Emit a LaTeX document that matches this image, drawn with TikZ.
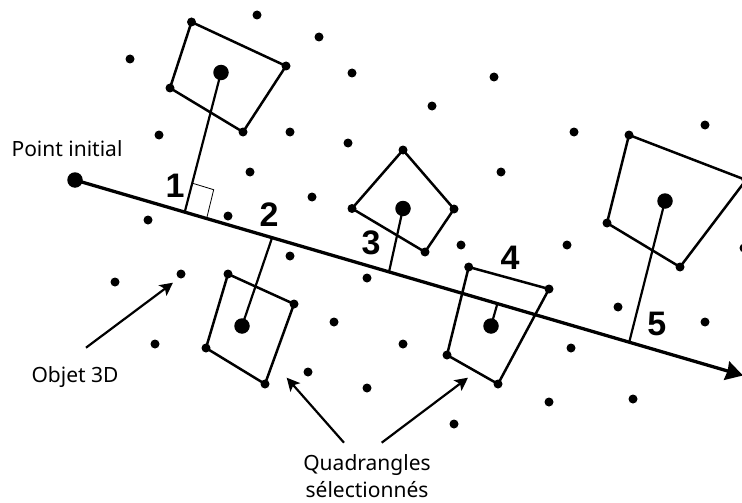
\documentclass[tikz,border=0pt]{standalone}
\usepackage{fontspec}
\setmainfont{Noto Sans}
\newfontfamily\digitfont{Liberation Sans}[Scale=1]
\usetikzlibrary{arrows.meta}
\tikzset{
  dotpt/.style={circle,fill=black,inner sep=0pt,minimum size=9pt},
  bigpt/.style={circle,fill=black,inner sep=0pt,minimum size=15.5pt},
  quadline/.style={line width=2.5pt,line join=round},
  perp/.style={line width=2.2pt},
  ray/.style={line width=3.3pt,-{Stealth[length=17pt,width=19pt,inset=1pt]}},
  pointer/.style={line width=2.2pt,-{Stealth[length=13pt,width=13pt,inset=3pt]}},
  tick/.style={line width=0.8pt},
  caption/.style={anchor=base,inner sep=0pt,font=\fontsize{21}{21}\selectfont},
  numlabel/.style={anchor=base,inner sep=0pt,font=\digitfont\bfseries\fontsize{34}{34}\selectfont}
}
\begin{document}
\begin{tikzpicture}[x=1pt,y=-1pt]
\useasboundingbox (0,0) rectangle (742,503);
\clip (0,0) rectangle (742,503);
% scattered points
\foreach \n/\p in {a/{257,15},b/{319,37},c/{130,59},d/{352,73},e/{159,135},f/{290,132},g/{348,143},h/{250,172},i/{312,197},j/{148,220},k/{228,216},l/{494,77},m/{432,106},n/{574,132},o/{705,125},p/{501,172},q/{461,245},r/{567,245},s/{115,282},t/{181,274},u/{155,344},v/{290,256},w/{367,278},x/{334,322},y/{308,372},z/{367,388},aa/{403,344},ab/{618,307},ac/{705,322},ad/{571,348},ae/{549,402},af/{633,399},ag/{454,424},ah/{744,248}}
  \node[dotpt] (pt\n) at (\p) {};
% free ends
\coordinate (tip) at (743,375.5);
\coordinate (f1) at (185,211);
\coordinate (f2) at (272,238);
\coordinate (f3) at (389,272);
\coordinate (f4) at (497,305);
\coordinate (f5) at (629,343);
\coordinate (r1) at (192.7,183.3);
\coordinate (r2) at (213.7,189.7);
\coordinate (r3) at (207,217);
\coordinate (p1a) at (86,347.7);
\coordinate (p1b) at (173,282.7);
\coordinate (p2a) at (344,442.7);
\coordinate (p2b) at (286.7,377.7);
\coordinate (p3a) at (381.7,442.7);
\coordinate (p3b) at (468,377.7);
% quadrangle vertices and centres
\node[dotpt] (q1a) at (191.5,22) {};
\node[dotpt] (q1b) at (286,66) {};
\node[dotpt] (q1c) at (243,132) {};
\node[dotpt] (q1d) at (170,88) {};
\node[bigpt] (c1) at (221,72.5) {};
\node[dotpt] (q2a) at (228,274) {};
\node[dotpt] (q2b) at (294,304) {};
\node[dotpt] (q2c) at (265,384) {};
\node[dotpt] (q2d) at (206,348) {};
\node[bigpt] (c2) at (242,326) {};
\node[dotpt] (q3a) at (403,150) {};
\node[dotpt] (q3b) at (454,209) {};
\node[dotpt] (q3c) at (425,252) {};
\node[dotpt] (q3d) at (352,208.5) {};
\node[bigpt] (c3) at (403,208.5) {};
\node[dotpt] (q4a) at (468.7,267) {};
\node[dotpt] (q4b) at (549,289) {};
\node[dotpt] (q4c) at (498,384) {};
\node[dotpt] (q4d) at (447,355) {};
\node[bigpt] (c4) at (491,326) {};
\node[dotpt] (q5a) at (629,135) {};
\node[dotpt] (q5b) at (746,180) {};
\node[dotpt] (q5c) at (680,267) {};
\node[dotpt] (q5d) at (607,223) {};
\node[bigpt] (c5) at (665,201) {};
\node[bigpt] (start) at (75,180) {};
% quadrangles
\foreach \q in {1,2,3,4,5}
  \draw[quadline] (q\q a.center) -- (q\q b.center) -- (q\q c.center) -- (q\q d.center) -- cycle;
% perpendiculars
\foreach \q in {1,2,3,4,5}
  \draw[perp] (c\q.center) -- (f\q);
\draw[tick] (r1) -- (r2) -- (r3);
% main ray
\draw[ray] (start.center) -- (tip);
% pointers
\draw[pointer] (p1a) -- (p1b);
\draw[pointer] (p2a) -- (p2b);
\draw[pointer] (p3a) -- (p3b);
% labels
\node[caption] (lstart) at (67,156) {Point initial};
\node[caption] (lobj) at (75,382.7) {Objet 3D};
\node[caption] (lquad) at (367,470) {Quadrangles};
\node[caption] (lsel) at (367,497.6) {sélectionnés};
\node[numlabel] (n1) at (175,197) {1};
\node[numlabel] (n2) at (269,226.7) {2};
\node[numlabel] (n3) at (371,254) {3};
\node[numlabel] (n4) at (510,269) {4};
\node[numlabel] (n5) at (656.7,335) {5};
\end{tikzpicture}
\end{document}
